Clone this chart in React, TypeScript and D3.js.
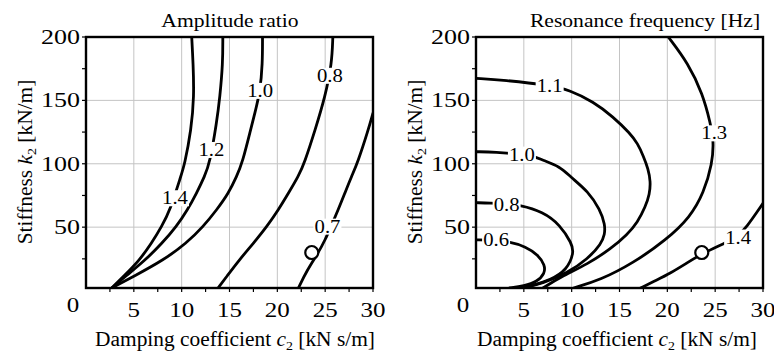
import { useEffect, useRef } from 'react';
import * as d3 from 'd3';

type Pt = [number, number];

// axes
const cTicks = [5, 10, 15, 20, 25, 30];
const cMinor = [2.5, 5, 7.5, 10, 12.5, 15, 17.5, 20, 22.5, 25, 27.5, 30];
const kTicks = [50, 100, 150, 200];
const kMinor = [25, 50, 75, 100, 125, 150, 175, 200];
const cMax = 30;
const kMin = 2;
const kMax = 200;

// design point (c2, k2)
const designC = 23.6;
const designK = 30;

// Amplitude ratio contours (c2, k2)
const ampLevels = ['1.4', '1.2', '1.0', '0.8', '0.7'];
const amp14: Pt[] = [[11.05, 200], [11.2, 179], [11.3, 153], [11.0, 127], [10.3, 99], [9.9, 90], [8.8, 63.5], [7.9, 50.4], [6.85, 37.3], [5.6, 24], [3.9, 11], [2.7, 2]];
const amp12: Pt[] = [[14.3, 200], [14.3, 179], [14.0, 153], [13.65, 132], [12.95, 101], [12.4, 90], [11.55, 76.7], [10.6, 63.5], [9.45, 50.4], [7.95, 37.3], [6.2, 24], [4.1, 11], [2.7, 2]];
const amp10: Pt[] = [[18.45, 200], [18.45, 179], [18.2, 157], [17.65, 140], [17.2, 126.6], [16.35, 101], [15.75, 90], [14.9, 76.7], [13.65, 63.5], [12.25, 50.4], [10.5, 37.3], [8.1, 24], [4.95, 11], [2.7, 2]];
const amp08: Pt[] = [[25.8, 200], [25.7, 179], [25.0, 153], [23.95, 126.6], [22.85, 101], [22.2, 90], [21.15, 76.7], [20.1, 63.5], [18.9, 50.4], [17.5, 37.3], [16.0, 24], [14.7, 11], [13.8, 2]];
const amp07: Pt[] = [[30, 140], [29.5, 126.6], [28.4, 101], [27.75, 90], [27.05, 76.7], [26.35, 63.5], [25.6, 50.4], [25.0, 40], [24.3, 30], [23.1, 16], [22.2, 2]];
const ampLabelAt: Pt[] = [[9.3, 72.8], [13.1, 110.9], [18.2, 157.5], [25.5, 169.4], [25.24, 50.4]];

// Resonance frequency contours (c2, k2)
const freqLevels = ['0.6', '0.8', '1.0', '1.1', '1.3', '1.4'];
const freq06: Pt[] = [[0, 40], [1.5, 40], [3.5, 38.5], [5.2, 34.6], [6.5, 28], [7.2, 20], [7.2, 13.6], [6.4, 7], [5.0, 3.6], [3.5, 2]];
const freq08: Pt[] = [[0, 69.3], [1.5, 69], [3.2, 68.3], [4.5, 67.5], [7.0, 62.2], [8.8, 51.7], [10.0, 37.3], [10.25, 30], [9.5, 16.2], [7.8, 8.3], [5.8, 3.6], [4.2, 2]];
const freq10: Pt[] = [[0, 109.5], [2, 109.3], [4.8, 107.5], [6.2, 105.6], [6.9, 103], [8.8, 97.7], [9.85, 89.8], [11.75, 78], [12.95, 64], [13.5, 52], [13.45, 44], [13.1, 37], [11.7, 25], [9.5, 13.6], [7.0, 5.7], [4.9, 2]];
const freq11: Pt[] = [[0, 167.4], [2.9, 166], [7.7, 162], [9.8, 158], [12.25, 149], [14.35, 137], [16.1, 124], [16.9, 116], [17.5, 106], [18.0, 96], [18.25, 86], [18.15, 76], [17.7, 66], [16.9, 54], [15.8, 44], [14.1, 33], [11.7, 21], [8.8, 10.5], [7.0, 2]];
const freq13: Pt[] = [[20.1, 200], [22.2, 179], [23.7, 155], [24.5, 132], [24.85, 118], [24.7, 100], [23.8, 77], [22.4, 58], [19.9, 40], [16.4, 21.5], [13.0, 8.3], [10.2, 2]];
const freq14: Pt[] = [[17.2, 2], [18.9, 8.3], [20.3, 13.6], [22.0, 21.5], [23.6, 29], [26.0, 37.3], [27.3, 42.5], [28.2, 49], [30, 68.8]];
const freqLabelAt: Pt[] = [[2.1, 39.9], [3.2, 67.8], [4.8, 107.2], [7.7, 161.6], [24.9, 124], [27.4, 41.8]];

const FONT = "'Liberation Serif', 'Times New Roman', serif";
const plotW = 287;
const plotTop = 37;
const plotBottom = 288;

const panels = [
    { id: 'amp', left: 86, title: 'Amplitude ratio', titleX: 230, xLabelX: 235, curves: [amp14, amp12, amp10, amp08, amp07], levels: ampLevels, labelAt: ampLabelAt },
    { id: 'freq', left: 476, title: 'Resonance frequency [Hz]', titleX: 645, xLabelX: 617, curves: [freq06, freq08, freq10, freq11, freq13, freq14], levels: freqLevels, labelAt: freqLabelAt },
];

function addText(g: any, x: number, y: number, str: string, size: number, sx: number, anchor = 'middle') {
    return g.append('text')
        .attr('transform', `translate(${x},${y}) scale(${sx},1)`)
        .attr('text-anchor', anchor)
        .attr('font-family', FONT)
        .attr('font-size', size)
        .attr('fill', '#000')
        .text(str);
}

// "text k_2 [unit]" with italic symbol and subscript
function addSymbolLabel(t: any, before: string, sym: string, after: string) {
    t.append('tspan').text(before);
    t.append('tspan').attr('font-style', 'italic').text(sym);
    t.append('tspan').attr('font-size', 13).attr('dy', 4).text('2');
    t.append('tspan').attr('dy', -4).text(after);
}

export default function App() {
    const ref = useRef<SVGSVGElement>(null);

    useEffect(() => {
        const svg = d3.select(ref.current);
        svg.selectAll('*').remove();

        panels.forEach((p) => {
            const x = d3.scaleLinear().domain([0, cMax]).range([p.left, p.left + plotW]);
            const y = d3.scaleLinear().domain([kMin, kMax]).range([plotBottom, plotTop]);
            const g = svg.append('g');

            g.append('clipPath').attr('id', `clip-${p.id}`)
                .append('rect')
                .attr('x', x(0)).attr('y', y(kMax))
                .attr('width', x(cMax) - x(0)).attr('height', y(kMin) - y(kMax));

            // grid
            g.selectAll('.vgrid').data(cTicks.filter(d => d < cMax)).enter().append('line')
                .attr('x1', d => x(d)).attr('x2', d => x(d))
                .attr('y1', y(kMin)).attr('y2', y(kMax))
                .attr('stroke', '#c4c4c4').attr('stroke-width', 1);
            g.selectAll('.hgrid').data(kTicks.filter(d => d < kMax)).enter().append('line')
                .attr('x1', x(0)).attr('x2', x(cMax))
                .attr('y1', d => y(d)).attr('y2', d => y(d))
                .attr('stroke', '#c4c4c4').attr('stroke-width', 1);

            // minor ticks, outward
            g.selectAll('.xtick').data(cMinor).enter().append('line')
                .attr('x1', d => x(d)).attr('x2', d => x(d))
                .attr('y1', y(kMin)).attr('y2', y(kMin) + 4)
                .attr('stroke', '#000').attr('stroke-width', 1.2);
            g.selectAll('.ytick').data(kMinor).enter().append('line')
                .attr('x1', x(0) - 4).attr('x2', x(0))
                .attr('y1', d => y(d)).attr('y2', d => y(d))
                .attr('stroke', '#000').attr('stroke-width', 1.2);

            // contour lines
            const line = d3.line<Pt>()
                .x(d => x(d[0]))
                .y(d => y(d[1]))
                .curve(d3.curveBasis);

            const lines = g.append('g').attr('clip-path', `url(#clip-${p.id})`);
            p.curves.forEach((pts) => {
                lines.append('path')
                    .attr('d', line(pts))
                    .attr('fill', 'none')
                    .attr('stroke', '#000')
                    .attr('stroke-width', 2.8)
                    .attr('stroke-linecap', 'round');
            });

            // contour labels, white box breaks the line
            p.levels.forEach((lv, i) => {
                const [c, k] = p.labelAt[i];
                g.append('rect')
                    .attr('x', x(c) - 14).attr('y', y(k) - 8)
                    .attr('width', 28).attr('height', 16)
                    .attr('fill', '#fff');
                addText(g, x(c), y(k) + 6, lv, 18, 1.15);
            });

            // design point
            g.append('circle')
                .attr('cx', x(designC)).attr('cy', y(designK)).attr('r', 6.5)
                .attr('fill', '#fff').attr('stroke', '#000').attr('stroke-width', 2.2);

            // frame
            g.append('rect')
                .attr('x', x(0)).attr('y', y(kMax))
                .attr('width', x(cMax) - x(0)).attr('height', y(kMin) - y(kMax))
                .attr('fill', 'none').attr('stroke', '#000').attr('stroke-width', 2.4);

            // tick labels
            cTicks.forEach(d => addText(g, x(d), 317, String(d), 20, 1.25));
            kTicks.forEach(d => addText(g, x(0) - 6, y(d) + 7, String(d), 20, 1.3, 'end'));
            addText(g, x(0) - 13, 312, '0', 20, 1.25);

            // title
            addText(g, p.titleX, 27, p.title, 18, 1.2);

            // axis labels
            const xl = addText(g, p.xLabelX, 346, '', 20, 1.07);
            addSymbolLabel(xl, 'Damping coefficient ', 'c', ' [kN s/m]');
            const yl = g.append('text')
                .attr('transform', `translate(${p.left - 54},162) rotate(-90) scale(1.07,1)`)
                .attr('text-anchor', 'middle')
                .attr('font-family', FONT)
                .attr('font-size', 20);
            addSymbolLabel(yl, 'Stiffness ', 'k', ' [kN/m]');
        });
    }, []);

    return (
        <svg
            ref={ref}
            width={774}
            height={356}
            style={{ position: 'absolute', left: 0, top: 0, background: '#fff' }}
        ></svg>
    );
}
